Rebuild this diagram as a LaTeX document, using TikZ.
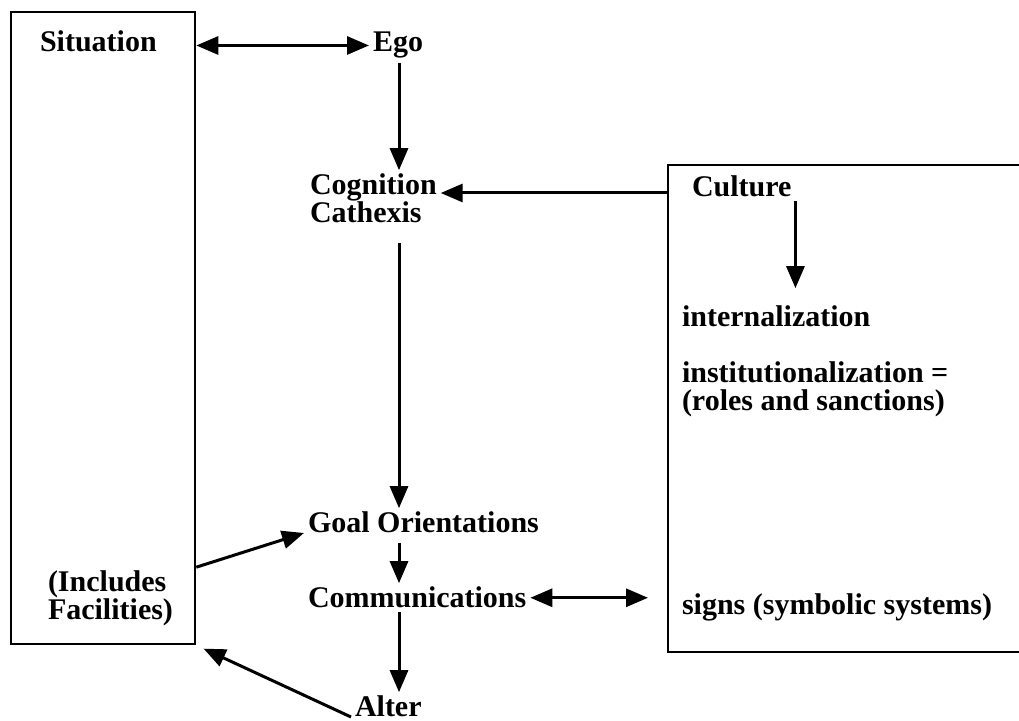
\documentclass[tikz,border=0pt]{standalone}
\usepackage{fontspec}
\setmainfont{Liberation Serif}
\usepackage{tikz}
\usetikzlibrary{arrows.meta}
\usetikzlibrary{calc}

\tikzset{
	lbl/.style={anchor=base west, inner sep=2pt, outer sep=0pt, align=left, font=\bfseries\fontsize{15}{14}\selectfont},
	arr/.style={-{Triangle[length=11pt,width=9pt]}, line width=1.5pt},
	darr/.style={{Triangle[length=11pt,width=9pt]}-{Triangle[length=11pt,width=9pt]}, line width=1.5pt},
	frame/.style={line width=1.3pt}
}

\begin{document}
\begin{tikzpicture}[x=0.5pt,y=-0.5pt]
\useasboundingbox (0,0) rectangle (1019,721);
% the two boxes (culture box runs off the right edge)
\node (sitbox) [draw, frame, minimum width=92pt, minimum height=316pt, inner sep=0pt] at (103,328) {};
\draw[frame] (1019,165) -- (668,165) -- (668,652) -- (1019,652);
\coordinate (cultedge) at (668,193);
\coordinate (axis) at (399,0);

% multi-line labels sit on their last baseline
\node (sit) [lbl] at (36,52) {Situation};
\node (incl) [lbl] at (44,620) {(Includes\\Facilities)};
\node (ego) [lbl] at (369,52) {Ego};
\node (cog) [lbl] at (306,223) {Cognition\\Cathexis};
\node (goal) [lbl] at (304,533) {Goal Orientations};
\node (comm) [lbl] at (304,608) {Communications};
\node (alter) [lbl] at (351,717) {Alter};
\node (cult) [lbl] at (688,197) {Culture};
\node (intern) [lbl] at (678,327) {internalization};
\node (instit) [lbl] at (678,411) {institutionalization =\\(roles and sanctions)};
\node (signs) [lbl] at (678,615) {signs (symbolic systems)};

\path[darr]
(sitbox.east |- ego.west) edge (ego.west)
(comm.east) edge ([xshift=-15pt]signs.west |- comm.east)
;
%\path[arr,font=\scriptsize]
\path[arr]
(ego.south -| axis) edge (cog.north -| axis)
(cultedge) edge (cog.east |- cultedge)
(cog.south -| axis) edge[shorten <=8pt] (goal.north -| axis)
(goal.south -| axis) edge[shorten <=3pt] (comm.north -| axis)
(comm.south -| axis) edge (alter.north -| axis)
(cult.south east) edge[shorten >=7pt] (cult.south east |- intern.north)
(sitbox.east |- incl.north) edge (goal.base west)
(alter.base west) edge[shorten >=4pt] (sitbox.south east)
;
\end{tikzpicture}
\end{document}
